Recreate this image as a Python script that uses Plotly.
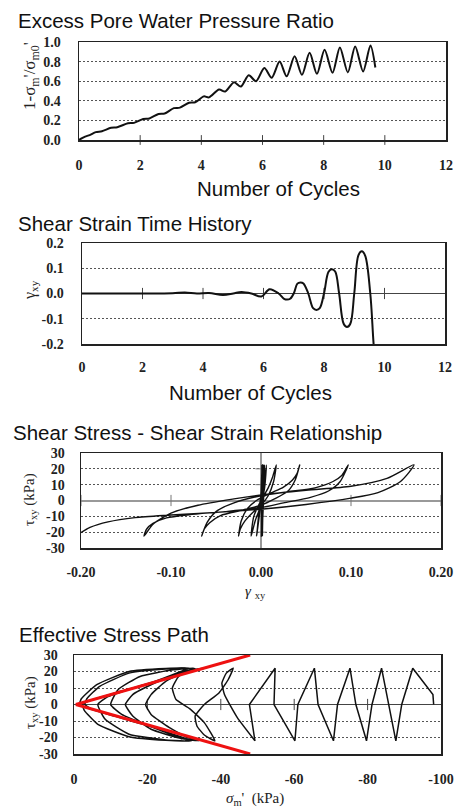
import plotly.graph_objects as go

# ---------------- DATA ----------------
# Panel 1: excess pore water pressure ratio vs number of cycles
ppr_cycles = [0.0, 0.1, 0.2, 0.35, 0.55, 0.75, 1.05, 1.25, 1.6, 1.8, 2.1, 2.3, 2.6, 2.8,
              3.1, 3.3, 3.6, 3.8, 4.08, 4.25, 4.58, 4.78, 5.07, 5.29, 5.55, 5.79, 6.06,
              6.3, 6.56, 6.79, 7.05, 7.29, 7.54, 7.78, 8.03, 8.29, 8.53, 8.79, 9.03, 9.29,
              9.53, 9.69]
ppr_values = [0.0, 0.02, 0.035, 0.05, 0.08, 0.09, 0.125, 0.13, 0.17, 0.175, 0.215, 0.22,
              0.265, 0.27, 0.325, 0.33, 0.38, 0.385, 0.445, 0.435, 0.515, 0.495, 0.59,
              0.545, 0.66, 0.60, 0.735, 0.635, 0.80, 0.65, 0.855, 0.665, 0.89, 0.675,
              0.92, 0.685, 0.945, 0.69, 0.955, 0.70, 0.965, 0.74]

# Panel 2: shear strain vs number of cycles
strain_cycles = [0.0, 1.0, 2.0, 3.0, 3.4, 3.8, 4.2, 4.66, 5.0, 5.27, 5.6, 5.93, 6.2, 6.5,
                 6.68, 6.78, 6.88, 7.0, 7.12, 7.22, 7.32, 7.48, 7.64, 7.75, 7.86, 8.0,
                 8.15, 8.26, 8.37, 8.5, 8.65, 8.76, 8.87, 9.0, 9.14, 9.25, 9.36, 9.53,
                 9.64, 9.75]
strain_values = [0.0, 0.0, 0.0, 0.001, 0.004, 0.0, 0.002, -0.006, 0.0, 0.006, 0.0, -0.012,
                 0.017, 0.0, -0.021, -0.024, -0.021, 0.0, 0.039, 0.044, 0.040, 0.0, -0.058,
                 -0.065, -0.058, 0.0, 0.086, 0.096, 0.087, 0.0, -0.12, -0.133, -0.12, 0.0,
                 0.152, 0.167, 0.15, 0.0, -0.2, -0.35]

# Panel 3: shear stress - shear strain (time ordered)
ss_strain = [0.0, 0.001, 0.0005, 0.0015, 0.001, 0.002, 0.0015, 0.003, 0.001, 0.004, -0.005,
             0.006, 0.004, 0.0, -0.006, -0.011,
             -0.008, 0.0, 0.008, 0.013, 0.017,
             0.014, 0.008, 0.0, -0.01, -0.018, -0.023, -0.025,
             -0.022, -0.015, -0.005, 0.01, 0.025, 0.035, 0.04, 0.043,
             0.038, 0.03, 0.015, 0.0, -0.02, -0.045, -0.057, -0.063, -0.066,
             -0.06, -0.05, -0.03, 0.0, 0.03, 0.06, 0.08, 0.09, 0.097,
             0.088, 0.075, 0.055, 0.025, 0.0, -0.04, -0.08, -0.105, -0.12, -0.127, -0.13,
             -0.12, -0.10, -0.07, -0.03, 0.0, 0.05, 0.10, 0.14, 0.17,
             0.155, 0.13, 0.10, 0.05, 0.0, -0.05, -0.10, -0.14, -0.17, -0.19, -0.205]
ss_stress = [0.0, 22.5, -22.5, 22.5, -22.5, 22.5, -22.5, 22.5, -22.5, 22.5, -22.5,
             22.5, 8.0, -3.0, -12.0, -22.5,
             -10.0, 0.0, 8.0, 15.0, 22.5,
             12.0, 3.0, -3.0, -8.0, -13.0, -18.0, -22.5,
             -13.0, -5.0, 0.0, 4.5, 8.5, 13.0, 17.0, 22.5,
             13.0, 6.0, 1.0, -3.0, -6.0, -9.5, -14.0, -18.0, -22.5,
             -14.0, -7.0, -1.5, 3.0, 5.5, 8.0, 12.0, 16.0, 22.5,
             12.0, 6.0, 2.0, -1.5, -4.5, -7.0, -9.0, -11.0, -14.5, -18.0, -22.5,
             -15.0, -8.0, -3.0, 1.0, 3.5, 6.5, 9.0, 14.0, 22.5,
             12.0, 5.0, 1.5, -2.5, -5.5, -7.5, -9.2, -10.8, -13.5, -17.0, -22.0]

# Panel 4: effective stress path (time ordered)
sp_sigma = [-98.0, -97.8, -92.3, -89.3, -87.7, -85.7, -83.8, -81.2, -79.7, -76.8, -75.2,
            -71.8, -70.7, -66.5, -65.5, -61.0, -60.2, -54.5, -54.8, -47.8, -49.3,
            -44.5, -41.0, -40.3, -41.5, -43.4,
            -42.0, -39.5, -35.5, -33.0, -33.5, -35.5, -38.4,
            -35.5, -31.5, -27.8, -26.8, -28.5, -31.5, -35.7,
            -31.0, -25.0, -21.0, -19.5, -21.0, -26.0, -31.0, -34.0,
            -29.0, -21.0, -16.0, -14.0, -16.0, -22.0, -28.0, -33.0,
            -27.0, -18.0, -12.0, -10.0, -13.0, -20.0, -27.0, -32.0,
            -25.0, -15.0, -8.5, -6.5, -9.0, -17.0, -25.0, -31.5,
            -25.0, -15.0, -7.0, -3.5, -3.0, -5.0, -13.0, -22.0, -31.0,
            -25.0, -15.0, -6.5, -2.8, -2.3, -4.5, -12.0, -22.0, -31.0,
            -25.0, -15.0, -6.2, -2.0, -1.5, -3.5, -11.0, -21.0, -29.5]
sp_tau = [0.0, 6.0, 22.0, 0.0, -22.0, 0.0, 22.0, 0.0, -22.0, 0.0, 22.0,
          0.0, -22.0, 0.0, 22.0, 0.0, -22.0, 0.0, 22.0, 0.0, -22.0,
          -8.0, 6.0, 13.0, 19.0, 22.0,
          15.0, 7.0, 0.0, -7.0, -13.0, -18.5, -22.0,
          -11.0, -2.5, 3.0, 10.0, 17.0, 20.8, 22.0,
          20.5, 14.0, 6.0, 0.0, -6.0, -14.0, -20.0, -22.0,
          -20.5, -15.0, -7.0, 0.0, 6.0, 13.0, 18.5, 22.0,
          21.0, 17.0, 9.0, 0.0, -6.0, -12.5, -18.0, -22.0,
          -21.5, -18.0, -9.0, 0.0, 4.5, 10.5, 16.0, 22.0,
          21.5, 19.0, 11.0, 3.5, 0.0, -3.0, -8.0, -14.0, -22.0,
          -21.7, -19.5, -12.0, -3.5, 0.0, 2.5, 7.5, 14.0, 22.0,
          21.8, 20.0, 12.0, 3.5, 0.0, -2.0, -7.0, -13.5, -21.0]
sp_zigzag_end = 20   # index where the straight zig-zag stage hands over to the butterfly

# Failure envelope (red)
env_sigma = [-0.5, -48.0]
env_tau_upper = [0.0, 30.0]
env_tau_lower = [0.0, -30.0]

# Tick values / labels
cycle_ticks = [0, 2, 4, 6, 8, 10, 12]
ppr_ticks = [0.0, 0.2, 0.4, 0.6, 0.8, 1.0]
ppr_ticktext = ["0.0", "0.2", "0.4", "0.6", "0.8", "1.0"]
gam_ticks = [-0.2, -0.1, 0.0, 0.1, 0.2]
gam_ticktext_y = ["-0.2", "-0.1", "0.0", "0.1", "0.2"]
gam_ticktext_x = ["-0.20", "-0.10", "0.00", "0.10", "0.20"]
tau_ticks = [-30, -20, -10, 0, 10, 20, 30]
tau_ticktext = ["-30", "-20", "-10", "0", "10", "20", "30"]
sig_ticks = [0, -20, -40, -60, -80, -100]
sig_ticktext = ["0", "-20", "-40", "-60", "-80", "-100"]

# ---------------- LAYOUT HELPERS ----------------
W, H = 456, 808


def fx(px):
    return px / W


def fy(py):
    return 1 - py / H


# plot boxes in pixels: (left, right, top, bottom)
boxes = {
    1: (79, 446, 42, 140),
    2: (82, 445, 243, 344),
    3: (81, 441, 453, 548),
    4: (74, 441, 655, 754),
}

TICKFONT = dict(family="Liberation Serif", size=14, color="#222", weight="bold")
TITLEFONT = dict(family="Liberation Sans", size=20.5, color="#111")
GRID = dict(showgrid=True, gridcolor="#555", gridwidth=1, griddash="2px,2px")
BORDER = dict(showline=True, mirror=True, linecolor="#222", linewidth=1.5, ticks="",
              automargin=False)

fig = go.Figure()

# Panel 1
fig.add_trace(go.Scatter(x=ppr_cycles, y=ppr_values, mode="lines",
                         line=dict(color="#111", width=2, shape="spline", smoothing=0.8),
                         xaxis="x", yaxis="y", hoverinfo="skip"))
fig.add_trace(go.Scatter(x=cycle_ticks[1:-1], y=[0] * (len(cycle_ticks) - 2), mode="markers",
                         marker=dict(symbol="line-ns", size=7, line=dict(width=1, color="#444")),
                         xaxis="x", yaxis="y", cliponaxis=False, hoverinfo="skip"))

# Panel 2
fig.add_trace(go.Scatter(x=cycle_ticks[1:-1], y=[0] * (len(cycle_ticks) - 2), mode="markers",
                         marker=dict(symbol="line-ns", size=8, line=dict(width=1, color="#444")),
                         xaxis="x2", yaxis="y2", cliponaxis=False, hoverinfo="skip"))
fig.add_trace(go.Scatter(x=strain_cycles, y=strain_values, mode="lines",
                         line=dict(color="#111", width=2, shape="spline", smoothing=1.0),
                         xaxis="x2", yaxis="y2", hoverinfo="skip"))

# Panel 3
fig.add_trace(go.Scatter(x=[v for v in gam_ticks if v != 0], y=[0] * 4, mode="markers",
                         marker=dict(symbol="line-ns", size=8, line=dict(width=1, color="#777")),
                         xaxis="x3", yaxis="y3", cliponaxis=False, hoverinfo="skip"))
fig.add_trace(go.Scatter(x=[0] * 4, y=[v for v in tau_ticks if v not in (0, -30, 30)], mode="markers",
                         marker=dict(symbol="line-ew", size=8, line=dict(width=1, color="#777")),
                         xaxis="x3", yaxis="y3", cliponaxis=False, hoverinfo="skip"))
fig.add_trace(go.Scatter(x=ss_strain, y=ss_stress, mode="lines",
                         line=dict(color="#111", width=1.4, shape="spline", smoothing=0.7),
                         xaxis="x3", yaxis="y3", hoverinfo="skip"))

# Panel 4
fig.add_trace(go.Scatter(x=sig_ticks[1:-1], y=[0] * (len(sig_ticks) - 2), mode="markers",
                         marker=dict(symbol="line-ns", size=8, line=dict(width=1, color="#444")),
                         xaxis="x4", yaxis="y4", cliponaxis=False, hoverinfo="skip"))
fig.add_trace(go.Scatter(x=sp_sigma[:sp_zigzag_end + 1], y=sp_tau[:sp_zigzag_end + 1],
                         mode="lines", line=dict(color="#111", width=1.5),
                         xaxis="x4", yaxis="y4", hoverinfo="skip"))
fig.add_trace(go.Scatter(x=sp_sigma[sp_zigzag_end:], y=sp_tau[sp_zigzag_end:], mode="lines",
                         line=dict(color="#111", width=1.5, shape="spline", smoothing=0.45),
                         xaxis="x4", yaxis="y4", hoverinfo="skip"))
fig.add_trace(go.Scatter(x=env_sigma, y=env_tau_upper, mode="lines",
                         line=dict(color="#ee1111", width=3),
                         xaxis="x4", yaxis="y4", hoverinfo="skip"))
fig.add_trace(go.Scatter(x=env_sigma, y=env_tau_lower, mode="lines",
                         line=dict(color="#ee1111", width=3),
                         xaxis="x4", yaxis="y4", hoverinfo="skip"))


def xdom(k):
    l, r, t, b = boxes[k]
    return [fx(l), fx(r)]


def ydom(k):
    l, r, t, b = boxes[k]
    return [fy(b), fy(t)]


layout = dict(
    width=W, height=H, margin=dict(l=0, r=0, t=0, b=0, autoexpand=False),
    paper_bgcolor="white", plot_bgcolor="white", showlegend=False,
    xaxis=dict(domain=xdom(1), anchor="y", range=[0, 12], tickvals=cycle_ticks,
               tickfont=TICKFONT, showgrid=False, zeroline=False, ticklabelstandoff=12, **BORDER),
    yaxis=dict(domain=ydom(1), anchor="x", range=[0, 1.0], tickvals=ppr_ticks,
               ticktext=ppr_ticktext, tickfont=TICKFONT, zeroline=False,
               ticklabelstandoff=14, **GRID, **BORDER),
    xaxis2=dict(domain=xdom(2), anchor="y2", range=[0, 12], tickvals=cycle_ticks,
                tickfont=TICKFONT, showgrid=False, zeroline=False, ticklabelstandoff=10, **BORDER),
    yaxis2=dict(domain=ydom(2), anchor="x2", range=[-0.2, 0.2], tickvals=gam_ticks,
                ticktext=gam_ticktext_y, tickfont=TICKFONT, zeroline=True,
                zerolinecolor="#444", zerolinewidth=1, ticklabelstandoff=14, **GRID, **BORDER),
    xaxis3=dict(domain=xdom(3), anchor="y3", range=[-0.2, 0.2], tickvals=gam_ticks,
                ticktext=gam_ticktext_x, tickfont=TICKFONT, showgrid=False, zeroline=True,
                zerolinecolor="#999", zerolinewidth=2, ticklabelstandoff=11, **BORDER),
    yaxis3=dict(domain=ydom(3), anchor="x3", range=[-30, 30], tickvals=tau_ticks,
                ticktext=tau_ticktext, tickfont=TICKFONT, zeroline=True,
                zerolinecolor="#999", zerolinewidth=2, ticklabelstandoff=12, **GRID, **BORDER),
    xaxis4=dict(domain=xdom(4), anchor="y4", range=[0, -100], tickvals=sig_ticks,
                ticktext=sig_ticktext, tickfont=TICKFONT, showgrid=False, zeroline=False,
                ticklabelstandoff=12, **BORDER),
    yaxis4=dict(domain=ydom(4), anchor="x4", range=[-30, 30], tickvals=tau_ticks,
                ticktext=tau_ticktext, tickfont=TICKFONT, zeroline=True,
                zerolinecolor="#444", zerolinewidth=1, ticklabelstandoff=12, **GRID, **BORDER),
)
fig.update_layout(**layout)

SERIF = "Liberation Serif"
annotations = [
    # panel titles
    dict(text="Excess Pore Water Pressure Ratio", x=fx(16), y=fy(20), font=TITLEFONT,
         xanchor="left"),
    dict(text="Shear Strain Time History", x=fx(16), y=fy(223), font=TITLEFONT,
         xanchor="left"),
    dict(text="Shear Stress - Shear Strain Relationship", x=fx(11), y=fy(432), font=TITLEFONT,
         xanchor="left"),
    dict(text="Effective Stress Path", x=fx(17), y=fy(634), font=TITLEFONT, xanchor="left"),
    # x axis titles
    dict(text="Number of Cycles", x=fx(278), y=fy(188), font=TITLEFONT, xanchor="center"),
    dict(text="Number of Cycles", x=fx(250), y=fy(392), font=TITLEFONT, xanchor="center"),
    dict(text="<i>γ</i> <sub>xy</sub>", x=fx(255), y=fy(592),
         font=dict(family=SERIF, size=15, color="#222"), xanchor="center"),
    dict(text="<i>σ</i><sub>m</sub>'  (kPa)", x=fx(255), y=fy(799),
         font=dict(family=SERIF, size=15, color="#222"), xanchor="center"),
    # y axis titles
    dict(text="1-σ<sub>m</sub>'/σ<sub>m0</sub>'", x=fx(31), y=fy(76), textangle=-90,
         font=dict(family=SERIF, size=17, color="#222"), xanchor="center"),
    dict(text="γ<sub>xy</sub>", x=fx(30), y=fy(290), textangle=-90,
         font=dict(family=SERIF, size=16, color="#222"), xanchor="center"),
    dict(text="τ<sub>xy</sub> (kPa)", x=fx(30), y=fy(500), textangle=-90,
         font=dict(family=SERIF, size=15, color="#222"), xanchor="center"),
    dict(text="τ<sub>xy</sub> (kPa)", x=fx(31), y=fy(703), textangle=-90,
         font=dict(family=SERIF, size=15, color="#222"), xanchor="center"),
]
for a in annotations:
    a.update(xref="paper", yref="paper", showarrow=False, yanchor="middle")
fig.update_layout(annotations=annotations)

fig.write_html(
    "out.html",
    config={"displayModeBar": False, "staticPlot": True},
    post_script="document.body.style.margin='0px';document.body.style.overflow='hidden';",
)
